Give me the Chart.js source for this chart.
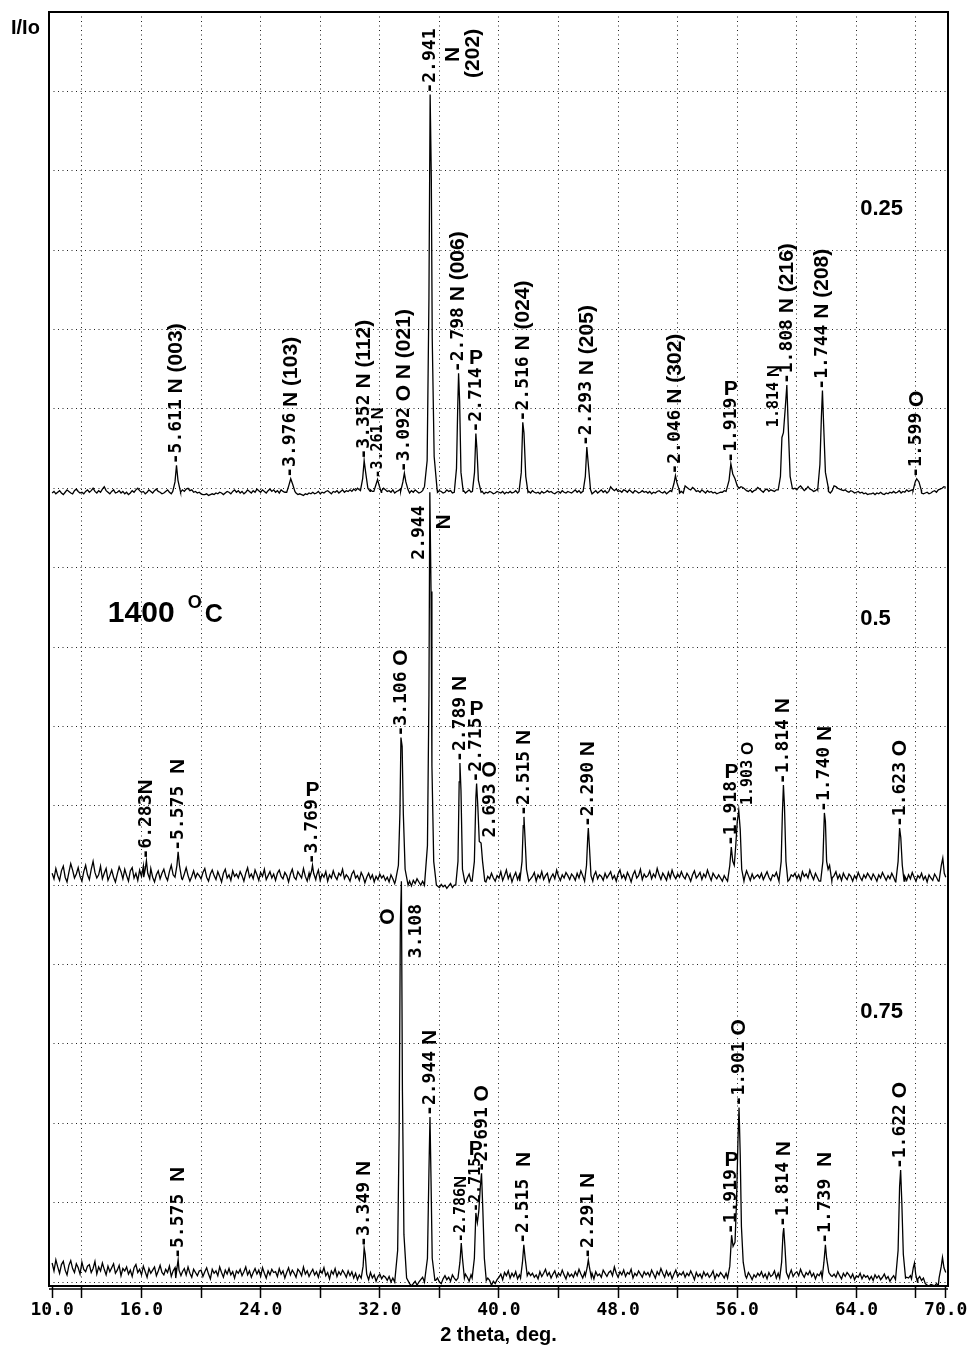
<!DOCTYPE html>
<html>
<head>
<meta charset="utf-8">
<title>XRD 1400 C</title>
<script src="https://cdn.jsdelivr.net/npm/chart.js@4.4.0/dist/chart.umd.min.js"></script>
<style>
  body { margin: 0; background: #fff; }
  canvas { display: block; }
</style>
</head>
<body>
<canvas id="xrd" width="970" height="1350"></canvas>
<script>
// ---- data (intensity in grid units, relative to each pattern's own baseline) ----
var sampleNames = ['0.25', '0.5', '0.75'];
var tempText = '1400';
var tickValues = [10, 12, 16, 20, 24, 28, 32, 36, 40, 44, 48, 52, 56, 60, 64, 68, 70];
var labelledTicks = [10, 16, 24, 32, 40, 48, 56, 64, 70];
var gridRows = [0, 1, 2, 3, 4, 5, 6, 7, 8, 9, 10, 11, 12, 13, 14, 15, 16];

// background noise, one value every 0.125 deg from 10.0 to 70.0 (20 per 2.5 deg row), in hundredths of a unit
var baseStart = 10, baseStep = 0.125;
var noise025 = [
  -6,-4,-7,-5,-3,-6,-8,-5,-2,-4,-6,-7,-3,-1,-4,-6,-5,-7,-4,-2,
  -5,-3,0,-4,-6,-3,-5,-1,2,-3,-5,-7,-4,-2,-6,-5,-3,-6,-4,-7,
  -5,-8,-6,-3,-5,-2,0,-3,-5,-4,-7,-5,-2,-4,-6,-3,-1,-4,-5,-7,
  -6,-4,-2,-5,-7,-5,-3,-6,-4,-5,-2,-4,-1,0,-3,-2,-5,-4,-6,-5,
  -7,-8,-8,-7,-9,-8,-7,-8,-6,-7,-5,-6,-8,-6,-4,-5,-7,-4,-2,-5,
  -3,-6,-4,-7,-5,-2,-4,-6,-3,-5,-1,-3,-5,-2,-4,-6,-3,-1,-4,-2,
  -5,-3,-6,-2,-4,-5,-3,-6,-4,-5,-7,-6,-8,-7,-8,-9,-7,-8,-6,-7,
  -5,-7,-6,-4,-7,-5,-6,-4,-3,-5,-7,-4,-5,-3,-6,-4,-2,-5,-3,-4,
  -2,-4,-1,-3,0,-2,-4,-3,-1,-5,-3,-2,-4,-6,-3,-5,-1,-3,0,-2,
  -4,-3,-5,-2,-6,-4,-3,-1,-4,-5,-2,-4,-6,-3,-5,-2,-4,-6,-5,-3,
  -4,-5,-6,-3,-5,-4,-2,-5,-3,-4,-6,-5,-2,-4,-3,-6,-5,-4,-6,-3,
  -5,-3,-6,-4,-2,-5,-4,-6,-7,-5,-6,-4,-7,-5,-6,-4,-5,-7,-6,-4,
  -5,-6,-4,-7,-5,-6,-4,-6,-5,-3,-6,-4,-5,-7,-6,-5,-4,-6,-3,-5,
  -6,-5,-7,-4,-6,-5,-3,-5,-4,-6,-7,-5,-4,-6,-3,-5,-6,-4,-5,-6,
  -4,-2,-5,-3,-6,-4,-2,-5,-6,-4,-7,-5,-3,-6,-4,-2,-5,-3,-6,-4,
  2,-1,-3,-1,-4,-3,-5,-2,-3,-5,-2,-4,-6,-3,-4,-6,-5,-3,-5,-4,
  -6,-4,-7,-5,-6,-4,-3,-5,-6,-4,-7,-5,-3,-6,-2,-4,-5,-6,-4,-6,
  3,1,-1,-2,1,-1,-4,-3,-5,-2,-4,-6,-3,-5,-4,-6,-5,-7,-6,-5,
  -5,-3,-4,-6,-4,-2,-3,-5,-2,0,2,1,-1,-3,-4,-2,-5,-3,-2,1,
  -1,-3,-5,-2,-1,-4,-2,-3,-4,-2,-3,-5,-4,-2,-3,-1,-2,-4,-1,0,
  -2,1,3,0,-3,-1,2,-1,-2,-4,-3,-1,-2,-4,-5,-3,-2,-4,-6,-3,
  3,2,0,-1,-2,-3,-2,-4,-5,-3,-4,-6,-5,-4,-6,-5,-7,-6,-8,-7,
  -7,-6,-8,-6,-7,-5,-7,-8,-6,-7,-5,-6,-4,-6,-5,-3,-6,-4,-5,-2,
  -4,-3,-2,-5,-3,-4,-5,-6,-7,-6,-5,-7,-6,-4,-3,-5,-2,-1,0,2,
  1
];
var noise05 = [
  15,8,21,12,6,18,24,10,4,16,27,19,9,14,22,11,5,17,25,13,
  7,20,30,16,9,13,24,8,15,21,6,12,19,10,4,14,23,17,8,20,
  12,5,18,22,9,15,6,19,11,24,14,7,16,21,10,4,13,18,8,15,
  20,11,6,17,25,13,8,16,10,19,7,14,22,12,5,11,18,9,15,12,
  8,16,21,10,5,14,19,12,7,17,11,4,15,20,9,13,6,18,11,14,
  9,17,12,5,15,22,10,14,8,19,13,6,16,11,20,7,12,17,9,14,
  6,15,19,11,8,16,12,4,14,20,10,7,17,13,9,21,11,5,15,10,
  16,8,12,19,6,14,10,17,5,13,9,18,11,7,15,12,20,8,13,10,
  5,14,18,9,12,6,16,11,3,10,15,8,13,4,11,7,14,9,12,6,
  10,4,13,8,2,9,6,11,1,7,3,10,5,-1,6,2,8,4,0,5,
  1,-3,3,-2,0,-4,2,-1,-3,1,-2,0,-4,-1,2,-3,0,-2,1,-3,
  6,11,3,9,14,5,12,8,2,10,16,7,13,4,11,8,15,9,5,12,
  9,17,6,12,19,8,14,4,11,16,7,13,10,18,6,12,15,8,11,16,
  5,13,9,17,7,12,15,4,10,14,8,19,11,6,13,9,16,12,7,14,
  11,6,15,9,18,12,7,14,10,16,5,12,17,8,13,11,6,15,9,13,
  17,8,12,5,14,19,9,13,7,16,11,4,13,18,9,12,20,7,14,10,
  12,18,8,14,10,21,13,7,15,11,6,16,9,19,12,8,14,10,17,11,
  8,15,11,5,13,18,9,12,16,7,14,10,19,12,6,15,11,8,13,9,
  5,12,8,14,10,6,16,11,9,13,7,15,10,18,12,6,14,8,11,13,
  9,15,7,12,17,10,6,13,11,16,8,14,12,9,18,10,7,13,11,15,
  8,13,6,17,11,14,9,19,12,7,15,10,5,13,8,16,11,6,14,9,
  12,17,8,13,6,15,10,7,14,11,5,12,8,16,10,6,13,9,15,11,
  7,14,10,5,13,9,16,11,6,12,8,15,10,4,12,7,14,9,11,6,
  13,8,16,10,5,12,9,15,7,11,4,13,9,6,14,10,5,12,8,11,
  10
];
var noise075 = [
  24,14,28,19,11,22,26,15,9,21,27,17,12,23,18,10,25,16,13,20,
  22,12,17,26,10,19,14,24,16,9,20,13,18,23,11,15,21,8,17,14,
  19,10,15,7,18,22,12,16,9,20,13,6,17,11,15,19,8,14,21,12,
  9,16,12,20,7,14,18,10,15,5,13,17,9,19,11,6,16,12,8,14,
  15,7,13,18,10,4,16,11,14,8,19,12,6,15,10,17,9,13,5,14,
  11,16,8,13,19,9,14,6,12,17,10,15,7,18,11,5,14,9,16,12,
  13,7,17,10,14,5,12,18,9,15,11,6,16,13,8,19,10,14,7,12,
  16,9,13,6,15,11,18,8,12,4,14,10,17,7,13,9,15,11,6,14,
  8,13,5,11,3,9,14,6,10,2,8,12,5,9,1,7,10,4,8,6,
  2,7,0,5,-2,3,8,1,6,-1,4,2,-3,-5,-2,1,-4,0,3,6,
  4,1,7,-1,3,-3,2,5,0,-2,4,8,3,6,1,9,5,2,7,4,
  8,3,10,6,1,9,4,-1,-3,2,-2,0,3,-1,5,2,-4,1,-2,3,
  6,10,3,12,8,14,5,11,7,13,4,9,15,6,10,3,12,8,11,6,
  9,4,13,7,11,16,8,12,5,10,14,6,11,8,15,9,4,12,7,10,
  6,13,8,16,10,5,12,9,14,7,11,4,13,8,10,6,15,11,7,12,
  14,8,19,11,6,13,9,15,7,12,10,16,5,11,8,14,10,6,13,9,
  12,7,15,10,5,13,9,17,11,6,14,8,12,4,10,15,7,11,9,13,
  6,11,8,14,9,3,12,7,10,5,13,8,11,6,9,14,4,10,7,12,
  9,5,11,8,3,10,6,12,4,9,7,13,10,5,12,8,3,9,6,11,
  8,13,6,10,4,12,7,9,14,5,11,8,13,10,6,12,9,15,7,11,
  13,8,16,10,6,12,9,14,7,11,4,10,8,13,6,12,9,5,11,7,
  10,6,13,8,4,11,7,12,9,5,10,3,8,6,11,4,9,6,8,3,
  7,2,9,5,8,3,6,10,4,7,1,5,8,3,6,9,4,7,2,6,
  5,8,3,6,9,4,7,2,5,-2,-4,-5,-3,-4,-5,-2,-4,-3,-5,-1,
  2
];

// reflections: [2 theta, intensity] points of each peak profile
var peaks025 = [
  [[18.1,-0.04],[18.25,0.08],[18.35,0.29],[18.45,0.1],[18.6,-0.03]],
  [[25.75,-0.05],[25.9,0.04],[26.02,0.12],[26.15,0.05],[26.3,-0.04]],
  [[30.7,-0.03],[30.85,0.12],[30.95,0.35],[31.05,0.2],[31.2,0.0],[31.35,-0.04]],
  [[31.6,-0.04],[31.75,0.05],[31.85,0.11],[31.95,0.04],[32.1,-0.05]],
  [[33.4,-0.04],[33.55,0.08],[33.65,0.19],[33.75,0.08],[33.9,-0.02]],
  [[35.0,0.02],[35.18,0.35],[35.3,2.4],[35.38,4.96],[35.46,3.9],[35.52,1.9],[35.65,0.4],[35.85,-0.02]],
  [[37.0,-0.05],[37.15,0.25],[37.23,1.0],[37.29,1.45],[37.36,1.1],[37.45,0.2],[37.6,-0.04]],
  [[38.22,-0.04],[38.36,0.2],[38.45,0.69],[38.52,0.5],[38.62,0.1],[38.8,-0.05]],
  [[41.35,-0.04],[41.5,0.2],[41.6,0.83],[41.68,0.7],[41.8,0.15],[41.95,-0.05]],
  [[45.65,-0.04],[45.8,0.15],[45.9,0.52],[46.0,0.3],[46.15,-0.02]],
  [[51.6,-0.04],[51.75,0.06],[51.85,0.16],[51.95,0.07],[52.1,-0.02]],
  [[55.3,-0.04],[55.45,0.1],[55.57,0.31],[55.7,0.18],[55.85,0.12],[56.0,0.03]],
  [[58.75,-0.02],[58.9,0.15],[59.0,0.64],[59.1,0.7],[59.22,1.0],[59.33,1.3],[59.42,0.8],[59.55,0.15],[59.7,0.0]],
  [[61.4,-0.02],[61.55,0.3],[61.65,0.9],[61.72,1.23],[61.8,0.8],[61.92,0.2],[62.1,0.02]],
  [[67.8,-0.03],[67.95,0.08],[68.05,0.12],[68.2,0.08],[68.35,-0.02]]
];
var peaks05 = [
  [[16.15,0.1],[16.25,0.2],[16.33,0.31],[16.42,0.15],[16.55,0.08]],
  [[18.25,0.1],[18.38,0.25],[18.46,0.42],[18.55,0.25],[18.7,0.08]],
  [[27.3,0.1],[27.42,0.18],[27.48,0.25],[27.56,0.15],[27.7,0.07]],
  [[33.05,0.05],[33.25,0.25],[33.35,0.9],[33.42,1.86],[33.5,1.75],[33.58,0.9],[33.7,0.2],[33.9,0.0]],
  [[35.0,0.0],[35.2,0.5],[35.3,2.4],[35.36,4.95],[35.44,3.7],[35.5,1.5],[35.62,0.3],[35.8,0.0]],
  [[37.1,0.0],[37.25,0.3],[37.33,1.3],[37.38,1.54],[37.45,1.2],[37.55,0.2],[37.7,0.05]],
  [[38.2,0.05],[38.35,0.3],[38.45,1.1],[38.5,1.28],[38.58,1.0],[38.68,0.55],[38.8,0.53],[38.9,0.3],[39.05,0.05]],
  [[41.4,0.05],[41.55,0.3],[41.63,0.75],[41.68,0.86],[41.75,0.6],[41.85,0.2],[42.0,0.05]],
  [[45.75,0.05],[45.88,0.25],[45.96,0.6],[46.0,0.72],[46.07,0.5],[46.18,0.12],[46.3,0.05]],
  [[55.35,0.05],[55.5,0.25],[55.6,0.48],[55.7,0.3],[55.8,0.25],[55.9,0.5],[56.0,0.8],[56.1,0.94],[56.2,0.7],[56.3,0.2],[56.45,0.05]],
  [[58.8,0.05],[58.95,0.3],[59.03,0.9],[59.1,1.26],[59.17,1.0],[59.27,0.3],[59.4,0.05]],
  [[61.6,0.05],[61.75,0.3],[61.85,0.91],[61.92,0.8],[62.0,0.3],[62.1,0.2],[62.2,0.25],[62.35,0.05]],
  [[66.65,0.05],[66.8,0.3],[66.9,0.72],[66.98,0.6],[67.08,0.25],[67.2,0.05]],
  [[69.55,0.05],[69.7,0.25],[69.8,0.34],[69.9,0.15],[70.0,0.1]]
];
var peaks075 = [
  [[18.3,0.05],[18.4,0.2],[18.46,0.28],[18.52,0.15],[18.65,0.08]],
  [[30.75,0.05],[30.88,0.2],[30.95,0.43],[31.02,0.35],[31.12,0.1],[31.25,0.03]],
  [[33.0,0.0],[33.2,0.4],[33.3,1.9],[33.38,4.5],[33.45,5.05],[33.52,2.4],[33.62,0.6],[33.8,0.05],[34.0,-0.02]],
  [[35.0,0.0],[35.2,0.3],[35.3,1.4],[35.37,2.08],[35.43,1.4],[35.52,0.3],[35.7,0.02]],
  [[37.25,0.05],[37.38,0.25],[37.47,0.49],[37.55,0.3],[37.68,0.05]],
  [[38.2,0.05],[38.35,0.3],[38.45,0.87],[38.55,0.75],[38.65,0.9],[38.75,1.2],[38.83,1.37],[38.92,0.9],[39.02,0.3],[39.15,0.02]],
  [[41.45,0.05],[41.58,0.25],[41.67,0.47],[41.76,0.3],[41.9,0.08]],
  [[45.8,0.08],[45.92,0.18],[46.0,0.28],[46.08,0.18],[46.2,0.06]],
  [[55.35,0.05],[55.5,0.2],[55.62,0.59],[55.72,0.45],[55.85,0.5],[55.95,1.0],[56.05,1.8],[56.12,2.2],[56.2,1.6],[56.28,0.7],[56.4,0.25],[56.55,0.08]],
  [[58.85,0.05],[58.98,0.25],[59.07,0.6],[59.12,0.68],[59.2,0.45],[59.3,0.12],[59.45,0.05]],
  [[61.7,0.05],[61.82,0.25],[61.92,0.47],[62.0,0.3],[62.15,0.12],[62.3,0.08]],
  [[66.65,0.03],[66.8,0.4],[66.9,1.2],[66.97,1.41],[67.05,1.0],[67.15,0.35],[67.3,0.05]],
  [[67.7,0.04],[67.82,0.18],[67.9,0.24],[67.98,0.1],[68.1,0.0]],
  [[69.55,0.05],[69.7,0.2],[69.78,0.31],[69.88,0.18],[70.0,0.12]]
];

// peak marks: [2 theta, rotated text, upright letter, 's' = small, start height if not on the peak top]
var labels025 = [
  [18.35, '-5.611 N (003)'],
  [26.02, '-3.976 N (103)'],
  [30.95, '-3.352 N (112)'],
  [31.9, '-3.261 N', null, 's'],
  [33.65, '-3.092 O N (021)'],
  [35.38, '-2.941'],
  [36.93, 'N', null, '', 5.37],
  [38.28, '(202)', null, '', 5.17],
  [37.29, '-2.798 N (006)'],
  [38.46, '-2.714', 'P'],
  [41.62, '-2.516 N (024)'],
  [45.9, '-2.293 N (205)'],
  [51.85, '-2.046 N (302)'],
  [55.57, '-1.919', 'P'],
  [58.5, '1.814 N', null, 's', 0.77],
  [59.33, '-1.808 N (216)'],
  [61.72, '-1.744 N (208)'],
  [68.05, '-1.599 O']
];
var labels05 = [
  [16.33, '-6.283N'],
  [18.46, '-5.575  N'],
  [27.48, '-3.769', 'P'],
  [33.44, '-3.106 O'],
  [34.66, '2.944', null, '', 4.1],
  [36.34, 'N', null, '', 4.48],
  [37.38, '-2.789 N'],
  [38.5, '-2.715', 'P'],
  [39.43, '2.693 O', null, '', 0.6],
  [41.68, '-2.515 N'],
  [46.0, '-2.290 N'],
  [55.62, '-1.918', 'P'],
  [56.73, '1.903 O', null, 's', 1.01],
  [59.1, '-1.814 N'],
  [61.88, '-1.740 N'],
  [66.92, '-1.623 O']
];
var labels075 = [
  [18.46, '-5.575  N'],
  [30.97, '-3.349 N'],
  [32.58, 'O', null, '', 4.5],
  [34.47, '3.108', null, '', 4.08],
  [35.37, '-2.944 N'],
  [37.47, '-2.786N', null, 's'],
  [38.45, '-2.715', 'P', 's'],
  [38.88, '-2.691 O'],
  [41.67, '-2.515  N'],
  [46.0, '-2.291 N'],
  [55.62, '-1.919', 'P'],
  [56.12, '-1.901 O'],
  [59.12, '-1.814 N'],
  [61.92, '-1.739  N'],
  [66.97, '-1.622 O']
];

// ---- layout ----
var offsets = [10, 5, 0];          // each pattern sits 5 grid rows above the next
var namePos = [3.52, 3.35, 3.40];  // height of the sample name over its baseline
var MONO = '"DejaVu Sans Mono", monospace';
var SANS = '"Liberation Sans", Arial, sans-serif';

function buildTrace(noise, peaks) {
  var pts = [];
  noise.forEach(function (v, i) {
    var x = baseStart + i * baseStep;
    var covered = peaks.some(function (p) { return x >= p[0][0] && x <= p[p.length - 1][0]; });
    if (!covered) pts.push([x, v / 100]);
  });
  peaks.forEach(function (p) { pts = pts.concat(p); });
  pts.sort(function (a, b) { return a[0] - b[0]; });
  return pts;
}

var traces = [buildTrace(noise025, peaks025), buildTrace(noise05, peaks05), buildTrace(noise075, peaks075)];
var labelSets = [labels025, labels05, labels075];

function drawMark(ctx, xs, ys, pts, off, lab) {
  var x = lab[0], text = lab[1], up = lab[2], small = lab[3] === 's', yRel = lab[4];
  var px = xs.getPixelForValue(x), py;
  if (yRel === undefined) {
    var top = -Infinity;
    pts.forEach(function (p) { if (Math.abs(p[0] - x) <= 0.12) top = Math.max(top, p[1]); });
    py = ys.getPixelForValue(top + off) - 1;
  } else {
    py = ys.getPixelForValue(yRel + off);
  }
  var monoFont = small ? 'bold 15px ' + MONO : 'bold 18px ' + MONO;
  var sansFont = small ? 'bold 17px ' + SANS : 'bold 21px ' + SANS;
  var m = text.match(/^-?\d\.\d+/);
  var parts = m ? [[m[0], monoFont], [text.slice(m[0].length), sansFont]] : [[text, sansFont]];
  ctx.save();
  ctx.translate(px, py);
  ctx.rotate(-Math.PI / 2);
  ctx.textAlign = 'left';
  ctx.textBaseline = 'middle';
  var run = 0;
  parts.forEach(function (p) {
    if (!p[0]) return;
    ctx.font = p[1];
    ctx.fillText(p[0], run, 0);
    run += ctx.measureText(p[0]).width;
  });
  ctx.restore();
  if (up) {
    // phase letter P stays upright above its number
    ctx.font = 'bold 21px ' + SANS;
    ctx.textAlign = 'center';
    ctx.textBaseline = 'alphabetic';
    ctx.fillText(up, px, py - run - 3);
  }
}

var decorations = {
  id: 'decorations',
  afterDraw: function (chart) {
    var ctx = chart.ctx, a = chart.chartArea;
    var xs = chart.scales.x, ys = chart.scales.y;
    ctx.save();
    ctx.fillStyle = '#000';
    ctx.strokeStyle = '#000';
    // frame and doubled axis line
    ctx.lineWidth = 2;
    ctx.strokeRect(a.left, a.top, a.right - a.left, a.bottom - a.top);
    ctx.lineWidth = 1.5;
    ctx.beginPath();
    ctx.moveTo(a.left, a.bottom + 3);
    ctx.lineTo(a.right, a.bottom + 3);
    ctx.stroke();

    labelSets.forEach(function (set, i) {
      set.forEach(function (lab) { drawMark(ctx, xs, ys, traces[i], offsets[i], lab); });
    });

    ctx.textAlign = 'left';
    ctx.textBaseline = 'middle';
    ctx.font = 'bold 22px ' + SANS;
    sampleNames.forEach(function (n, i) {
      ctx.fillText(n, xs.getPixelForValue(64.26), ys.getPixelForValue(offsets[i] + namePos[i]));
    });

    // temperature, with the raised O used as the degree sign
    var tx = xs.getPixelForValue(13.74), ty = ys.getPixelForValue(8.32);
    ctx.textBaseline = 'alphabetic';
    ctx.font = 'bold 30px ' + SANS;
    ctx.fillText(tempText, tx, ty);
    ctx.font = 'bold 18px ' + SANS;
    ctx.fillText('O', tx + 80, ty - 14);
    ctx.font = 'bold 25px ' + SANS;
    ctx.fillText('C', tx + 97, ty);

    ctx.font = 'bold 20px ' + SANS;
    ctx.fillText('I/Io', 11, 34);
    ctx.restore();
  }
};

new Chart(document.getElementById('xrd'), {
  type: 'line',
  data: {
    datasets: traces.map(function (pts, i) {
      return {
        label: sampleNames[i],
        data: pts.map(function (p) { return { x: p[0], y: p[1] + offsets[i] }; }),
        borderColor: '#000',
        borderWidth: 1.3,
        pointRadius: 0,
        tension: 0,
        fill: false
      };
    })
  },
  options: {
    responsive: false,
    animation: false,
    parsing: false,
    layout: { padding: { left: 49, right: 22, top: 12, bottom: 0 } },
    plugins: { legend: { display: false }, tooltip: { enabled: false } },
    scales: {
      x: {
        type: 'linear',
        min: 9.79,
        max: 70.15,
        afterBuildTicks: function (s) { s.ticks = tickValues.map(function (v) { return { value: v }; }); },
        afterFit: function (s) { s.height = 64; },
        grid: {
          color: function (c) {
            return c.tick && (c.tick.value === 10 || c.tick.value === 70) ? 'rgba(0,0,0,0)' : '#222';
          },
          lineWidth: 1,
          tickColor: '#000',
          tickWidth: 1.5,
          tickLength: 12
        },
        border: { display: false, dash: [1, 3.5] },
        ticks: {
          autoSkip: false,
          maxRotation: 0,
          padding: 2,
          color: '#000',
          font: { family: 'DejaVu Sans Mono', size: 18, weight: 'bold' },
          callback: function (v) { return labelledTicks.indexOf(v) >= 0 ? v.toFixed(1) : ''; }
        },
        title: {
          display: true,
          text: '2 theta, deg.',
          color: '#000',
          font: { family: 'Liberation Sans', size: 20, weight: 'bold' },
          padding: { top: 0, bottom: 3 }
        }
      },
      y: {
        type: 'linear',
        min: -0.05,
        max: 16,
        afterBuildTicks: function (s) { s.ticks = gridRows.map(function (v) { return { value: v }; }); },
        afterFit: function (s) { s.width = 0; },
        ticks: { display: false },
        grid: { color: '#222', lineWidth: 1, drawTicks: false },
        border: { display: false, dash: [1, 3.5] }
      }
    }
  },
  plugins: [decorations]
});
</script>
</body>
</html>
